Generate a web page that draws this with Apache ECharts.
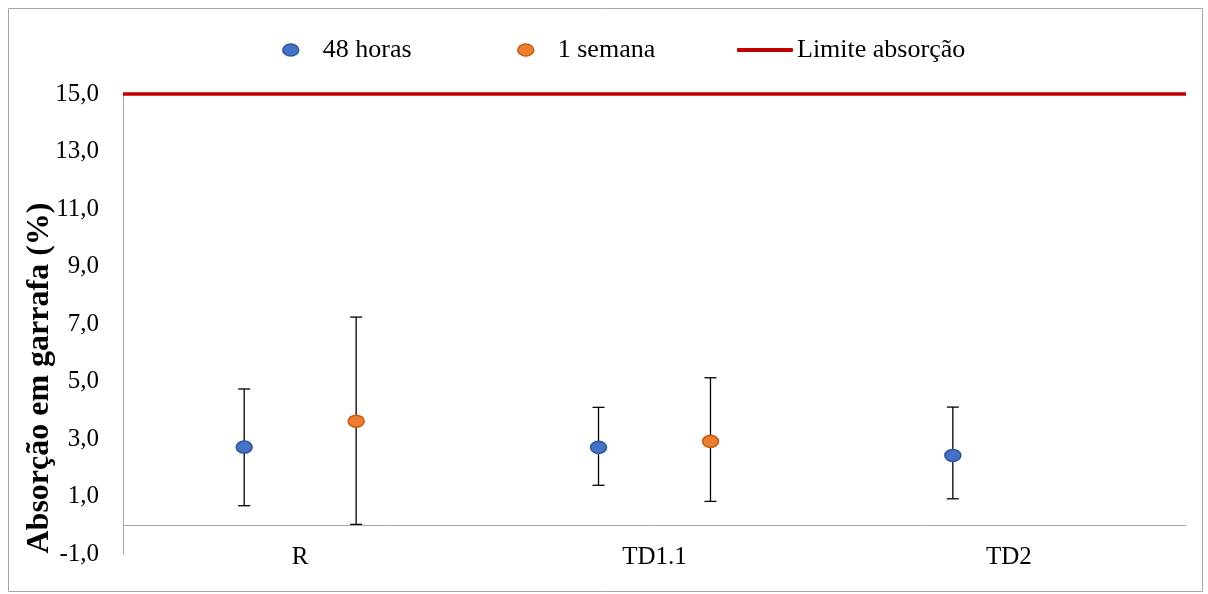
<!DOCTYPE html>
<html>
<head>
<meta charset="utf-8">
<script src="https://cdn.jsdelivr.net/npm/echarts@6/dist/echarts.min.js"></script>
<style>
  html, body { margin: 0; padding: 0; background: #fff; }
  #chart { width: 1208px; height: 594px; }
</style>
</head>
<body>
<div id="chart"></div>
<script>
// Absorção em garrafa (%) — média e intervalo por composição
const categories = ['R', 'TD1.1', 'TD2'];

const mean48h = [2.72, 2.71, 2.43];
const low48h  = [0.68, 1.39, 0.92];
const high48h = [4.74, 4.10, 4.11];

const mean1sem = [3.62, 2.92, null];
const low1sem  = [0.03, 0.83, null];
const high1sem = [7.24, 5.13, null];

const limiteAbsorcao = 15;

const yMin = -1;
const yMax = 15;
const yStep = 2;

const yTitle = 'Absorção em garrafa (%)';

const FONT = 'Liberation Serif';

const COLOR_48H = '#4472C4', EDGE_48H = '#2F5597';
const COLOR_1SEM = '#ED7D31', EDGE_1SEM = '#C55A11';
const COLOR_LIM = '#C00000';

// ellipse marker used in the legend
const ELLIPSE_ICON = 'path://M0,6 A8,6 0 1,0 16,6 A8,6 0 1,0 0,6 Z';

function rows(mean, low, high) {
  return categories
    .map((c, i) => (mean[i] == null ? null : [i, mean[i], low[i], high[i]]))
    .filter(Boolean);
}

// point with vertical error bar, shifted sideways inside the category band
function errorPoint(shift, fill, stroke) {
  return function (params, api) {
    const band = api.size([1, 0])[0];
    const c = api.coord([api.value(0), api.value(1)]);
    const lo = api.coord([api.value(0), api.value(2)]);
    const hi = api.coord([api.value(0), api.value(3)]);
    const x = c[0] + band * shift;
    const cap = 6;
    const bar = { stroke: '#000', lineWidth: 1.3 };
    return {
      type: 'group',
      children: [
        { type: 'line', shape: { x1: x, y1: hi[1], x2: x, y2: lo[1] }, style: bar },
        { type: 'line', shape: { x1: x - cap, y1: hi[1], x2: x + cap, y2: hi[1] }, style: bar },
        { type: 'line', shape: { x1: x - cap, y1: lo[1], x2: x + cap, y2: lo[1] }, style: bar },
        { type: 'ellipse', shape: { cx: x, cy: c[1], rx: 8, ry: 6 },
          style: { fill: fill, stroke: stroke, lineWidth: 1.5 } }
      ]
    };
  };
}

const legendText = { fontFamily: FONT, fontSize: 26, color: '#000', lineHeight: 26 };

const option = {
  backgroundColor: '#fff',
  animation: false,
  grid: { left: 123, right: 22, top: 94, bottom: 40, containLabel: false },
  legend: [
    {
      data: [{ name: '48 horas', icon: ELLIPSE_ICON,
               itemStyle: { color: COLOR_48H, borderColor: EDGE_48H, borderWidth: 1.5 } }],
      left: 282, top: 37, padding: 0,
      itemWidth: 16, itemHeight: 12, symbolKeepAspect: false, selectedMode: false,
      textStyle: Object.assign({ padding: [0, 0, 0, 19] }, legendText)
    },
    {
      data: [{ name: '1 semana', icon: ELLIPSE_ICON,
               itemStyle: { color: COLOR_1SEM, borderColor: EDGE_1SEM, borderWidth: 1.5 } }],
      left: 517, top: 37, padding: 0,
      itemWidth: 16, itemHeight: 12, symbolKeepAspect: false, selectedMode: false,
      textStyle: Object.assign({ padding: [0, 0, 0, 19] }, legendText)
    },
    {
      data: [{ name: 'Limite absorção', icon: 'roundRect',
               itemStyle: { color: COLOR_LIM, borderWidth: 0 } }],
      left: 737, top: 37, padding: 0,
      itemWidth: 56, itemHeight: 4, symbolKeepAspect: false, selectedMode: false,
      textStyle: Object.assign({ padding: [0, 0, 0, -1] }, legendText)
    }
  ],
  xAxis: {
    type: 'category',
    data: categories,
    axisLine: { show: false, onZero: false },
    axisTick: { show: false },
    splitLine: { show: false },
    axisLabel: { fontFamily: FONT, fontSize: 25, color: '#000', margin: -9 }
  },
  yAxis: {
    type: 'value',
    min: yMin,
    max: yMax,
    interval: yStep,
    axisLine: { show: true, lineStyle: { color: '#A6A6A6', width: 1 } },
    axisTick: { show: false },
    splitLine: { show: false },
    axisLabel: {
      fontFamily: FONT, fontSize: 25, color: '#000', margin: 24,
      formatter: v => v.toFixed(1).replace('.', ',')
    }
  },
  graphic: [
    { type: 'rect', silent: true, z: -1,
      shape: { x: 8.5, y: 8.5, width: 1194, height: 583 },
      style: { fill: 'none', stroke: '#A6A6A6', lineWidth: 1 } },
    // vertical axis title
    { type: 'text', silent: true,
      x: 40, y: 378, rotation: Math.PI / 2,
      style: { text: yTitle, fill: '#000', align: 'center', verticalAlign: 'middle',
               font: 'bold 32px "Liberation Serif"' } }
  ],
  series: [
    {
      name: 'Limite absorção',
      type: 'line',
      data: [],
      symbol: 'none',
      lineStyle: { color: COLOR_LIM, width: 3.5 },
      itemStyle: { color: COLOR_LIM },
      markLine: {
        silent: true,
        symbol: ['none', 'none'],
        label: { show: false },
        data: [
          { yAxis: 0, lineStyle: { color: '#A6A6A6', width: 1, type: 'solid' } },
          { yAxis: limiteAbsorcao, lineStyle: { color: COLOR_LIM, width: 3.5, type: 'solid' } }
        ]
      }
    },
    {
      name: '48 horas',
      type: 'custom',
      itemStyle: { color: COLOR_48H },
      encode: { x: 0, y: 1 },
      data: rows(mean48h, low48h, high48h),
      renderItem: errorPoint(-0.158, COLOR_48H, EDGE_48H)
    },
    {
      name: '1 semana',
      type: 'custom',
      itemStyle: { color: COLOR_1SEM },
      encode: { x: 0, y: 1 },
      data: rows(mean1sem, low1sem, high1sem),
      renderItem: errorPoint(0.158, COLOR_1SEM, EDGE_1SEM)
    }
  ]
};

const chart = echarts.init(document.getElementById('chart'), null, { renderer: 'canvas' });
chart.setOption(option);
</script>
</body>
</html>
